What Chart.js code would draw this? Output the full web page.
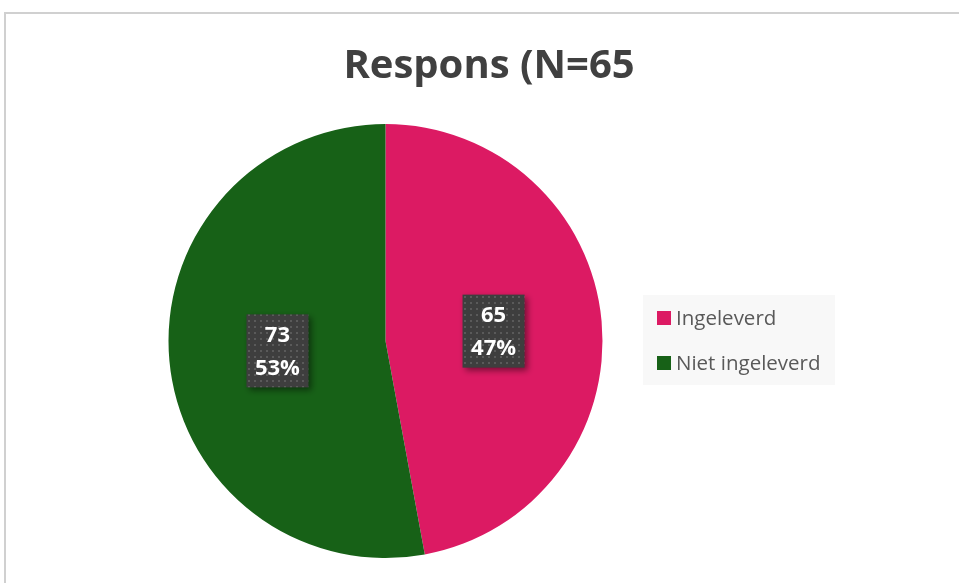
<!DOCTYPE html>
<html>
<head>
<meta charset="utf-8">
<script src="https://cdn.jsdelivr.net/npm/chart.js@4/dist/chart.umd.min.js"></script>
<style>
  body { margin: 0; background: #fff; overflow: hidden; }
  #frame { position: absolute; left: 4px; top: 12px; width: 1000px; height: 700px; border: 2px solid #d0d0d0; }
  #chart { position: absolute; left: 0; top: 0; }
</style>
</head>
<body>
<div id="frame"></div>
<canvas id="chart" width="959" height="583"></canvas>
<script>
var titleText = 'Respons (N=65';
var labels = ['Ingeleverd', 'Niet ingeleverd'];
var values = [65, 73];
var colors = ['#DC1A63', '#176117'];

function makeDotPattern(ctx) {
    var p = document.createElement('canvas');
    p.width = 6; p.height = 6;
    var c = p.getContext('2d');
    c.fillStyle = '#3e3e3e';
    c.fillRect(0, 0, 6, 6);
    c.fillStyle = '#5a5a5a';
    c.fillRect(2, 2, 2, 2);
    return ctx.createPattern(p, 'repeat');
}

var extrasPlugin = {
    id: 'extras',
    afterDraw: function(chart) {
        var ctx = chart.ctx;
        var total = values.reduce(function(a, b) { return a + b; }, 0);

        // title
        ctx.save();
        ctx.fillStyle = '#404040';
        ctx.font = 'bold 40px "Open Sans"';
        ctx.textAlign = 'center';
        ctx.textBaseline = 'middle';
        ctx.fillText(titleText, 489, 67);
        ctx.restore();

        // data labels
        var pattern = makeDotPattern(ctx);
        var meta = chart.getDatasetMeta(0);
        meta.data.forEach(function(arc, i) {
            var pos = arc.tooltipPosition();
            var w = 62, h = 73;
            var x = pos.x - w / 2, y = pos.y - h / 2;
            ctx.save();
            ctx.shadowColor = 'rgba(0,0,0,0.45)';
            ctx.shadowBlur = 6;
            ctx.shadowOffsetX = 3;
            ctx.shadowOffsetY = 3;
            ctx.fillStyle = pattern;
            ctx.fillRect(x, y, w, h);
            ctx.restore();
            ctx.save();
            ctx.fillStyle = '#ffffff';
            ctx.font = 'bold 22px "Open Sans"';
            ctx.textAlign = 'center';
            ctx.textBaseline = 'middle';
            ctx.fillText(String(values[i]), pos.x, pos.y - 15);
            ctx.fillText(Math.round(values[i] / total * 100) + '%', pos.x, pos.y + 18);
            ctx.restore();
        });

        // legend
        ctx.save();
        ctx.fillStyle = '#f8f8f8';
        ctx.fillRect(643, 295, 192, 90);
        ctx.font = '20.5px "Open Sans"';
        ctx.textBaseline = 'middle';
        labels.forEach(function(lab, i) {
            var cy = 318 + i * 45;
            ctx.fillStyle = colors[i];
            ctx.fillRect(657, cy - 7, 14, 14);
            ctx.fillStyle = '#595959';
            ctx.fillText(lab, 676, cy + 1);
        });
        ctx.restore();
    }
};

function makePieChart() {
    var ctx = document.getElementById('chart').getContext('2d');
    new Chart(ctx, {
        type: 'pie',
        data: {
            labels: labels,
            datasets: [{
                data: values,
                backgroundColor: colors,
                borderWidth: 0,
                hoverOffset: 0
            }]
        },
        options: {
            responsive: false,
            animation: false,
            layout: { padding: { top: 124, bottom: 25, left: 168, right: 356 } },
            plugins: {
                legend: { display: false },
                title: { display: false },
                tooltip: { enabled: false }
            }
        },
        plugins: [extrasPlugin]
    });
}

window.onload = function() {
    makePieChart();
};
</script>
</body>
</html>
